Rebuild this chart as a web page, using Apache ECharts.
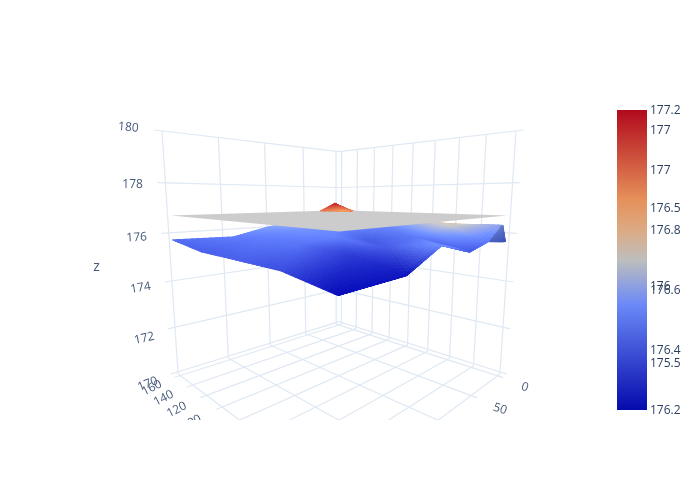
<!DOCTYPE html>
<html><head><meta charset="utf-8">
<style>html,body{margin:0;padding:0;background:#fff}#c{width:700px;height:500px}</style>
<script src="https://cdn.jsdelivr.net/npm/echarts@6/dist/echarts.min.js"></script>
</head><body><div id="c"></div>
<script>
// ---- data ----
const xValues = [-3, 4, 30, 60, 100, 140, 198];
const yValues = [1.6, 4, 40, 80, 120, 162];
const zMain = [
  [175.64, 175.65, 175.76, 175.51, 175.91, 175.19, 175.10],
  [176.30, 176.19, 175.76, 175.51, 175.91, 175.19, 175.10],
  [176.25, 176.22, 176.00, 175.85, 175.60, 175.55, 175.39],
  [176.30, 176.27, 176.10, 175.50, 175.80, 175.70, 175.43],
  [176.36, 176.34, 176.30, 176.10, 175.95, 175.80, 175.46],
  [176.95, 177.10, 176.65, 176.20, 176.00, 175.64, 175.71]
];
const colorMain = [
  [175.70, 175.70, 175.78, 175.60, 175.87, 175.26, 175.22],
  [175.95, 175.95, 175.78, 175.60, 175.87, 175.26, 175.22],
  [176.25, 176.20, 175.98, 175.75, 175.60, 175.45, 175.53],
  [176.10, 176.05, 175.85, 175.60, 175.78, 175.72, 175.62],
  [176.36, 176.20, 175.95, 175.87, 175.87, 175.78, 175.62],
  [176.95, 177.10, 176.65, 176.10, 175.95, 175.78, 175.68]
];
const xPlane = [-3, 198];
const yPlane = [1.6, 162];
const zPlane = [[176.7, 176.63], [176.7, 176.7]];
const planeLevel = 176.7;
const xTicks = [0, 50, 100, 150, 200];
const yTicks = [0, 20, 40, 60, 80, 100, 120, 140, 160];
const zTicks = [170, 172, 174, 176, 178, 180];
const xRange = [-5, 200];
const yRange = [0, 163.5];
const zRange = [169.9, 180];
const mainColorRange = [175.2, 177.126];
const planeColorRange = [176.2, 177.2];
const barTicksA = [176.2, 176.4, 176.6, 176.8, 177, 177.2];
const barTicksB = [175.5, 176, 176.5, 177];
const colorStops = [[0,[5,10,172]],[0.35,[106,137,247]],[0.5,[190,190,190]],[0.6,[220,170,132]],[0.7,[230,145,90]],[1,[178,10,28]]];

// ---- camera ----
const cam = {De:3.25, Ce:0.5, s:0.152, co:0.988, S:391.8, cx:339, cy:258.3, kz:1.03};
function screen(a,b,c){
  const d=(a-b)/Math.SQRT2, h=(a+b)/Math.SQRT2;
  const rd=d-cam.De, r=c*cam.kz-cam.Ce;
  const w=-rd*cam.co-r*cam.s, v=-rd*cam.s+r*cam.co;
  return [cam.cx-cam.S*h/w, cam.cy-cam.S*v/w, w];
}
const nx=x=>(x-xRange[0])/(xRange[1]-xRange[0])*2-1;
const ny=y=>(y-yRange[0])/(yRange[1]-yRange[0])*2-1;
const nz=z=>(z-zRange[0])/(zRange[1]-zRange[0])*2-1;
function colorAt(t){
  t=Math.max(0,Math.min(1,t));
  for(let i=1;i<colorStops.length;i++){
    if(t<=colorStops[i][0]){
      const [t0,c0]=colorStops[i-1],[t1,c1]=colorStops[i];
      const f=(t-t0)/(t1-t0);
      return c0.map((v,k)=>v+(c1[k]-v)*f);
    }
  }
  return colorStops[colorStops.length-1][1];
}
function shade(z,range,light){
  const c=colorAt((z-range[0])/(range[1]-range[0]));
  return 'rgb('+c.map(v=>Math.min(255,Math.round(v*light))).join(',')+')';
}
function lightOf(p,q,r){
  const A=[nx(q[0])-nx(p[0]),ny(q[1])-ny(p[1]),(nz(q[2])-nz(p[2]))*cam.kz];
  const B=[nx(r[0])-nx(p[0]),ny(r[1])-ny(p[1]),(nz(r[2])-nz(p[2]))*cam.kz];
  const n=[A[1]*B[2]-A[2]*B[1],A[2]*B[0]-A[0]*B[2],A[0]*B[1]-A[1]*B[0]];
  const l=Math.hypot(n[0],n[1],n[2])||1;
  return 0.72+0.36*Math.abs(n[2]/l);
}
function clipAt(poly,level,keepBelow){
  const out=[];
  for(let i=0;i<poly.length;i++){
    const p=poly[i],q=poly[(i+1)%poly.length];
    const pin=keepBelow?p[2]<=level:p[2]>=level, qin=keepBelow?q[2]<=level:q[2]>=level;
    if(pin) out.push(p);
    if(pin!==qin){const f=(level-p[2])/(q[2]-p[2]);out.push(p.map((v,k)=>v+(q[k]-v)*f));}
  }
  return out;
}
const lower=[],upper=[];
function pushPoly(list,poly,light){
  if(poly.length<3) return;
  const zc=poly.reduce((s,p)=>s+p[3],0)/poly.length;
  const scr=poly.map(p=>screen(nx(p[0]),ny(p[1]),nz(p[2])));
  list.push({pts:scr.map(p=>[p[0],p[1]]),w:scr.reduce((s,p)=>s+p[2],0)/scr.length,fill:shade(zc,mainColorRange,light)});
}
function addTriangle(P,Q,R,n){
  const light=lightOf(P,Q,R);
  const pt=(i,j)=>{const f=i/n,g=j/n;return [0,1,2,3].map(k=>P[k]+(Q[k]-P[k])*f+(R[k]-P[k])*g);};
  const sub=(t)=>{pushPoly(lower,clipAt(t,planeLevel,true),light);pushPoly(upper,clipAt(t,planeLevel,false),light);};
  for(let i=0;i<n;i++)for(let j=0;j<n-i;j++){
    sub([pt(i,j),pt(i+1,j),pt(i,j+1)]);
    if(i+j<n-1) sub([pt(i+1,j),pt(i+1,j+1),pt(i,j+1)]);
  }
}
for(let j=0;j<yValues.length-1;j++)for(let i=0;i<xValues.length-1;i++){
  const v=(ii,jj)=>[xValues[ii],yValues[jj],zMain[jj][ii],colorMain[jj][ii]];
  addTriangle(v(i,j),v(i+1,j),v(i,j+1),10);
  addTriangle(v(i+1,j),v(i+1,j+1),v(i,j+1),10);
}
lower.sort((p,q)=>q.w-p.w);
upper.sort((p,q)=>q.w-p.w);
const planeCorners=[[0,0],[1,0],[1,1],[0,1]].map(([i,j])=>{
  const s=screen(nx(xPlane[i]),ny(yPlane[j]),nz(zPlane[j][i]));return [s[0],s[1]];});
const planeLayer=[{pts:planeCorners,fill:shade(planeLevel,planeColorRange,1.075)}];

// grid lines
const gridLines=[];
const seg=(p,q)=>{const s=screen(...p),t=screen(...q);gridLines.push([[s[0],s[1]],[t[0],t[1]]]);};
xTicks.forEach(x=>{const a=nx(x);seg([a,1,-1],[a,1,1]);seg([a,-1.05,-1],[a,1,-1]);});
yTicks.forEach(y=>{const b=ny(y);seg([-1,b,-1],[-1,b,1]);seg([-1,b,-1],[1.05,b,-1]);});
zTicks.forEach(z=>{const c=nz(z);seg([-1,1,c],[1.06,1,c]);seg([-1,1,c],[-1,-1.06,c]);});

// tick labels
const labels=[];
const addLabel=(text,p,rot,dx,dy,size)=>{const s=screen(...p);labels.push({text,x:s[0]+dx,y:s[1]+dy,rot,size:size||12});};
const zRot={170:22,172:12,174:9,176:3,178:0,180:-5};
const zDy={170:4,172:5,174:3,176:3,178:2,180:0};
zTicks.forEach(z=>addLabel(String(z),[1.22,1,nz(z)],zRot[z],-4,zDy[z]));
yTicks.forEach(y=>addLabel(String(y),[1.22,ny(y),-1],27,-2,4));
xTicks.forEach(x=>addLabel(String(x),[nx(x),-1.22,-1],-18,1,3));
addLabel('z',[1.55,1,0],0,1,1,14);

const polySeries=(list)=>({
  type:'custom',xAxisIndex:0,yAxisIndex:0,clip:true,silent:true,animation:false,
  data:list.map((_,i)=>[i]),
  encode:{x:[],y:[]},
  renderItem:(params,api)=>{
    const p=list[api.value(0)];
    return {type:'polygon',shape:{points:p.pts.map(q=>api.coord(q))},
      style:{fill:p.fill,stroke:p.fill,lineWidth:p.w?1:0}};
  }
});
const barGradient=new echarts.graphic.LinearGradient(0,1,0,0,colorStops.map(([o,c])=>({offset:o,color:'rgb('+c.join(',')+')'})));
const fmt=v=>String(Math.round(v*10)/10);
const barLabel=(vals)=>({customValues:vals,formatter:fmt,margin:3,color:'#2a3f5f',fontFamily:'Open Sans',fontSize:12});

const option={
  backgroundColor:'#fff',animation:false,
  grid:[
    {left:0,width:700,top:100,height:320,show:false},
    {left:617,width:30,top:110,height:300,show:false},
    {left:617,width:30,top:110.8,height:300,show:false}
  ],
  xAxis:[
    {gridIndex:0,type:'value',min:0,max:700,show:false},
    {gridIndex:1,type:'value',min:0,max:1,show:false},
    {gridIndex:2,type:'value',min:0,max:1,show:false}
  ],
  yAxis:[
    {gridIndex:0,type:'value',min:100,max:420,inverse:true,show:false},
    {gridIndex:1,type:'value',min:planeColorRange[0],max:planeColorRange[1],show:false},
    {gridIndex:2,type:'value',position:'right',min:planeColorRange[0],max:planeColorRange[1],
      axisLine:{show:false},axisTick:{show:false},splitLine:{show:false},axisLabel:barLabel(barTicksA)},
    {gridIndex:2,type:'value',position:'right',min:mainColorRange[0],max:mainColorRange[1],
      axisLine:{show:false},axisTick:{show:false},splitLine:{show:false},axisLabel:barLabel(barTicksB)}
  ],
  series:[
    {type:'custom',xAxisIndex:0,yAxisIndex:0,clip:true,silent:true,animation:false,
      data:gridLines.map((_,i)=>[i]),encode:{x:[],y:[]},
      renderItem:(params,api)=>{
        const l=gridLines[api.value(0)];
        const p=api.coord(l[0]),q=api.coord(l[1]);
        return {type:'line',shape:{x1:p[0],y1:p[1],x2:q[0],y2:q[1]},
          style:{stroke:'#dfe8f3',lineWidth:1.2}};
      }},
    {type:'custom',xAxisIndex:0,yAxisIndex:0,clip:true,silent:true,animation:false,
      data:labels.map((_,i)=>[i]),encode:{x:[],y:[]},
      renderItem:(params,api)=>{
        const t=labels[api.value(0)];
        const c=api.coord([t.x,t.y]);
        return {type:'text',x:c[0],y:c[1],rotation:t.rot*Math.PI/180,
          style:{text:t.text,fill:'#46597a',font:t.size+'px "Open Sans"',align:'center',verticalAlign:'middle'}};
      }},
    polySeries(lower),
    polySeries(planeLayer),
    polySeries(upper),
    {type:'custom',xAxisIndex:1,yAxisIndex:1,silent:true,animation:false,
      data:[[0]],encode:{x:[],y:[]},
      renderItem:(params,api)=>{
        const p=api.coord([0,planeColorRange[1]]),q=api.coord([1,planeColorRange[0]]);
        return {type:'rect',shape:{x:p[0],y:p[1],width:q[0]-p[0],height:q[1]-p[1]},style:{fill:barGradient}};
      }}
  ]
};
echarts.init(document.getElementById('c'),null,{renderer:'canvas'}).setOption(option);
</script></body></html>
